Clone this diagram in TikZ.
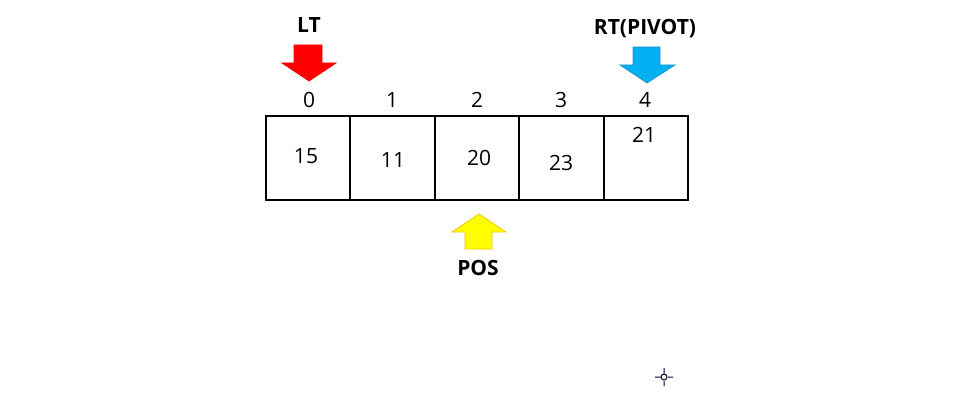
\documentclass[tikz,border=0pt]{standalone}
\usepackage{fontspec}
\setmainfont{Open Sans}
\usetikzlibrary{positioning, calc}

\definecolor{ltred}{RGB}{255,0,0}
\definecolor{rtblue}{RGB}{0,176,240}
\definecolor{rtblueline}{RGB}{40,150,210}
\definecolor{posyellow}{RGB}{255,255,0}
\definecolor{posline}{RGB}{240,200,0}

\tikzset{
  cell/.style={draw, line width=2pt, outer sep=0pt, inner sep=0pt,
    minimum width=84.4pt, minimum height=84pt},
  val/.style={font=\fontsize{21}{24}\selectfont, inner sep=0pt},
  idx/.style={font=\fontsize{21}{24}\selectfont, inner sep=0pt},
  tag/.style={font=\bfseries\fontsize{21}{24}\selectfont, inner sep=0pt},
  fatarrow/.style={line width=0.8pt, line join=miter}
}

\begin{document}
\begin{tikzpicture}[x=1pt, y=-1pt]
    \useasboundingbox (0,0) rectangle (960,401);

    % array cells
    \node[cell] (c0) at (308.2,158) {};
    \node[cell, right=0pt of c0] (c1) {};
    \node[cell, right=0pt of c1] (c2) {};
    \node[cell, right=0pt of c2] (c3) {};
    \node[cell, right=0pt of c3] (c4) {};

    % values
    \node[val] (v0) at (306,156) {15};
    \node[val] (v1) at (393,160) {11};
    \node[val] (v2) at (479,158) {20};
    \node[val] (v3) at (561,163) {23};
    \node[val] (v4) at (644,135) {21};

    % indices
    \node[idx] (i0) at (309,100) {0};
    \node[idx] (i1) at (392,100) {1};
    \node[idx] (i2) at (477,100) {2};
    \node[idx] (i3) at (561,100) {3};
    \node[idx] (i4) at (645,100) {4};

    % pointers
    \node[tag] (lt) at (309,25) {LT};
    \node[tag] (rt) at (645,29) {RT(PIVOT)};
    \node[tag] (pos) at (478,268) {POS};

    \filldraw[fatarrow, draw=ltred, fill=ltred]
      (294,45) -- (322,45) -- (322,63) -- (336,63) -- (309,81)
      -- (282,63) -- (294,63) -- cycle;
    \filldraw[fatarrow, draw=rtblueline, fill=rtblue]
      (633,47) -- (660,47) -- (660,65) -- (675,65) -- (647,83)
      -- (620,65) -- (633,65) -- cycle;
    \filldraw[fatarrow, draw=posline, fill=posyellow]
      (465,249) -- (492,249) -- (492,232) -- (506,232) -- (479,214)
      -- (452,232) -- (465,232) -- cycle;

    % cursor
    \coordinate (cur) at (664,377);
    \draw[line width=1pt, draw=black!80!blue] (cur) circle (3)
      ($(cur)+(-9,0)$) -- ($(cur)+(-4,0)$)
      ($(cur)+(4,0)$) -- ($(cur)+(9,0)$)
      ($(cur)+(0,-9)$) -- ($(cur)+(0,-4)$)
      ($(cur)+(0,4)$) -- ($(cur)+(0,9)$);
\end{tikzpicture}
\end{document}
